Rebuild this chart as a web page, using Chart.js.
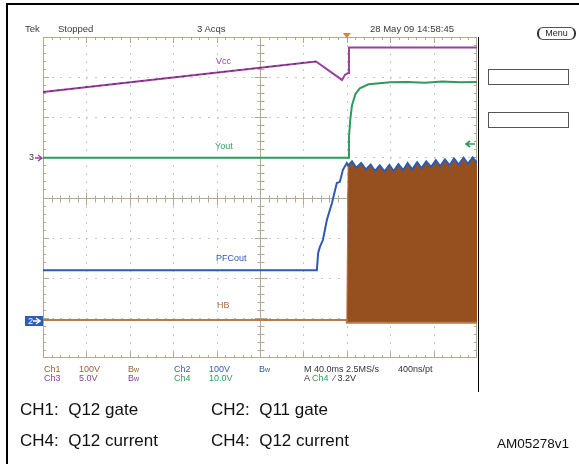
<!DOCTYPE html>
<html>
<head>
<meta charset="utf-8">
<script src="https://cdn.jsdelivr.net/npm/chart.js@4.4.0/dist/chart.umd.min.js"></script>
<style>
  html, body { margin: 0; padding: 0; background: #fff; }
  #wrap { position: relative; width: 579px; height: 464px; overflow: hidden; font-family: "Liberation Sans", Arial, sans-serif; }
  #wrap canvas { position: absolute; left: 0; top: 0; }
  .t { position: absolute; white-space: pre; line-height: 1; }
  .scope { font-size: 9.5px; color: #3a3a3a; }
  .ro { font-size: 9px; }
  .cap { font-size: 17px; color: #111; }
  .box { position: absolute; border: 1px solid #555; box-sizing: border-box; }
  svg.arr { position: absolute; }
</style>
</head>
<body>
<div id="wrap">
  <canvas id="scope"></canvas>

  <!-- outer frame -->
  <div style="position:absolute;left:6px;top:3px;width:573px;height:2px;background:#000"></div>
  <div style="position:absolute;left:6px;top:3px;width:2px;height:461px;background:#000"></div>
  <div style="position:absolute;left:478px;top:37px;width:1px;height:355px;background:#000"></div>

  <!-- status line -->
  <div class="t scope" style="left:25px;top:24px">Tek</div>
  <div class="t scope" style="left:58px;top:24px">Stopped</div>
  <div class="t scope" style="left:197px;top:24px">3 Acqs</div>
  <div class="t scope" style="left:370px;top:24px">28 May 09 14:58:45</div>

  <!-- side menu -->
  <div class="box" style="left:537px;top:27px;width:39px;height:13px;border-radius:6px;border-left:2px solid #333;border-right:2px solid #333;font-size:9px;text-align:center;line-height:11px;color:#222">Menu</div>
  <div class="box" style="left:488px;top:69px;width:81px;height:16px"></div>
  <div class="box" style="left:488px;top:112px;width:81px;height:16px"></div>

  <!-- trace labels -->
  <div class="t ro" style="left:216px;top:57px;color:#9c3fa0">Vcc</div>
  <div class="t ro" style="left:215px;top:142px;color:#2f9a5e">Yout</div>
  <div class="t ro" style="left:216px;top:254px;color:#2e5bb0">PFCout</div>
  <div class="t ro" style="left:217px;top:301px;color:#b0693a">HB</div>

  <!-- channel markers -->
  <div class="t" style="left:29px;top:153px;font-size:9px;color:#333">3</div>
  <svg class="arr" style="left:35px;top:154px" width="8" height="8"><path d="M0 4H6M3 1L7 4L3 7" stroke="#a040a0" stroke-width="1.4" fill="none"/></svg>
  <div class="t ro" style="left:25px;top:316px;width:18px;height:10px;background:#2d5fb0;color:#fff;line-height:10px;padding-left:3px;box-sizing:border-box">2</div>
  <svg class="arr" style="left:33px;top:317px" width="8" height="8"><path d="M0 4H6M3 1L7 4L3 7" stroke="#fff" stroke-width="1.4" fill="none"/></svg>
  <svg class="arr" style="left:465px;top:140px" width="10" height="8"><path d="M10 4H2M5 1L1 4L5 7" stroke="#2f9a5e" stroke-width="1.6" fill="none"/></svg>

  <!-- readouts -->
  <div class="t ro" style="left:44px;top:365px;color:#a0602a">Ch1</div>
  <div class="t ro" style="left:79px;top:365px;color:#a0602a">100V</div>
  <div class="t ro" style="left:128px;top:365px;color:#a0602a">B<span style="font-size:7px">w</span></div>
  <div class="t ro" style="left:174px;top:365px;color:#3060b0">Ch2</div>
  <div class="t ro" style="left:209px;top:365px;color:#3060b0">100V</div>
  <div class="t ro" style="left:259px;top:365px;color:#3060b0">B<span style="font-size:7px">w</span></div>
  <div class="t ro" style="left:304px;top:365px;color:#333">M 40.0ms 2.5MS/s</div>
  <div class="t ro" style="left:398px;top:365px;color:#333">400ns/pt</div>
  <div class="t ro" style="left:44px;top:374px;color:#9040a0">Ch3</div>
  <div class="t ro" style="left:79px;top:374px;color:#9040a0">5.0V</div>
  <div class="t ro" style="left:128px;top:374px;color:#9040a0">B<span style="font-size:7px">w</span></div>
  <div class="t ro" style="left:174px;top:374px;color:#30a060">Ch4</div>
  <div class="t ro" style="left:209px;top:374px;color:#30a060">10.0V</div>
  <div class="t ro" style="left:304px;top:374px;color:#333">A <span style="color:#30a060">Ch4</span>  &#8260; 3.2V</div>

  <!-- captions -->
  <div class="t cap" style="left:20px;top:401px">CH1:  Q12 gate</div>
  <div class="t cap" style="left:211px;top:401px">CH2:  Q11 gate</div>
  <div class="t cap" style="left:20px;top:432px">CH4:  Q12 current</div>
  <div class="t cap" style="left:211px;top:432px">CH4:  Q12 current</div>
  <div class="t" style="left:497px;top:437px;font-size:13.5px;color:#111">AM05278v1</div>
</div>

<script>
// screen is 10 x 8 divisions, values below are in divisions
const vccX = [0, 6.29, 6.89, 6.96, 7.03, 7.05, 10];
const vccY = [6.63, 7.39, 6.93, 7.06, 7.10, 7.74, 7.74];

const voutX = [0, 7.03, 7.05, 7.08, 7.12, 7.20, 7.30, 7.50, 8.0, 8.4, 8.8, 9.2, 9.6, 10];
const voutY = [4.99, 4.99, 5.50, 5.94, 6.30, 6.58, 6.72, 6.82, 6.87, 6.88, 6.86, 6.89, 6.87, 6.88];

// PFCout before the switching starts
const pfcX = [0, 6.31, 6.34, 6.38, 6.45, 6.54, 6.66, 6.77, 6.84, 6.91, 7.0];
const pfcY = [2.19, 2.19, 2.62, 2.77, 2.94, 3.44, 3.87, 4.36, 4.39, 4.69, 4.86];

// ripple on top of the HB burst (PFCout rides on it)
const rippleX = [7.03, 7.12, 7.22, 7.33, 7.44, 7.55, 7.65, 7.76, 7.87, 7.98, 8.08, 8.19, 8.30, 8.40, 8.51,
                 8.62, 8.72, 8.83, 8.94, 9.05, 9.15, 9.26, 9.37, 9.47, 9.58, 9.69, 9.79, 9.90, 10.0];
const rippleY = [4.80, 4.90, 4.74, 4.86, 4.70, 4.82, 4.66, 4.80, 4.65, 4.81, 4.66, 4.83, 4.68, 4.86, 4.70,
                 4.88, 4.73, 4.90, 4.76, 4.93, 4.78, 4.95, 4.80, 4.97, 4.82, 4.99, 4.84, 5.00, 4.86];

const hbX = [0, 7.0, 7.0, 10];
const hbY = [0.95, 0.95, 0.88, 0.88];
const hbFloor = 0.88;   // bottom of the switching burst
const triggerX = 7.0;   // trigger position marker

const pts = (xs, ys) => xs.map((x, i) => ({ x, y: ys[i] }));

// scope graticule: dotted divisions, ticked centre axes and frame
const graticule = {
  id: 'graticule',
  beforeDatasetsDraw(chart) {
    const { ctx, chartArea: a, scales: { x, y } } = chart;
    ctx.save();
    ctx.fillStyle = '#c8c8c8';
    for (let i = 1; i < 10; i++) {
      if (i === 5) continue;
      const px = Math.round(x.getPixelForValue(i));
      for (let j = 1; j < 40; j++) ctx.fillRect(px, Math.round(y.getPixelForValue(j * 0.2)), 1, 2);
    }
    for (let i = 1; i < 8; i++) {
      if (i === 4) continue;
      const py = Math.round(y.getPixelForValue(i));
      for (let j = 1; j < 50; j++) ctx.fillRect(Math.round(x.getPixelForValue(j * 0.2)), py, 2, 1);
    }

    ctx.strokeStyle = '#b3a98e';
    ctx.lineWidth = 1;
    ctx.strokeRect(a.left + 0.5, a.top + 0.5, a.width - 1, a.height - 1);
    const cx = Math.round(x.getPixelForValue(5)) + 0.5;
    const cy = Math.round(y.getPixelForValue(4)) + 0.5;
    ctx.beginPath();
    ctx.moveTo(a.left, cy); ctx.lineTo(a.right, cy);
    ctx.moveTo(cx, a.top); ctx.lineTo(cx, a.bottom);
    // ticks along x
    for (let j = 1; j < 50; j++) {
      const px = Math.round(x.getPixelForValue(j * 0.2)) + 0.5;
      const big = j % 5 === 0 ? 3 : 0;
      ctx.moveTo(px, cy - 3 - big); ctx.lineTo(px, cy + 4 + big);
      ctx.moveTo(px, a.top); ctx.lineTo(px, a.top + 3 + big);
      ctx.moveTo(px, a.bottom); ctx.lineTo(px, a.bottom - 3 - big);
    }
    // ticks along y
    for (let j = 1; j < 40; j++) {
      const py = Math.round(y.getPixelForValue(j * 0.2)) + 0.5;
      const big = j % 5 === 0 ? 3 : 0;
      ctx.moveTo(cx - 3 - big, py); ctx.lineTo(cx + 4 + big, py);
      ctx.moveTo(a.left, py); ctx.lineTo(a.left + 3 + big, py);
      ctx.moveTo(a.right, py); ctx.lineTo(a.right - 3 - big, py);
    }
    ctx.stroke();
    ctx.restore();
  },
  afterDatasetsDraw(chart) {
    const { ctx, chartArea: a, scales: { x } } = chart;
    const tx = x.getPixelForValue(triggerX);
    ctx.save();
    ctx.fillStyle = '#f07a2c';
    ctx.beginPath();
    ctx.moveTo(tx - 4, a.top - 4);
    ctx.lineTo(tx + 4, a.top - 4);
    ctx.lineTo(tx, a.top + 1);
    ctx.closePath();
    ctx.fill();
    ctx.restore();
  }
};

const line = (data, color, order, extra) => Object.assign({
  data, borderColor: color, borderWidth: 2, pointRadius: 0, tension: 0, fill: false, order
}, extra || {});

new Chart(document.getElementById('scope'), {
  type: 'line',
  data: {
    datasets: [
      // dark speckle seen on the slow Vcc ramp
      line(pts(vccX.slice(0, 2), vccY.slice(0, 2)), '#5a2464', 0, { borderWidth: 1, borderDash: [3, 4] }),
      line(pts(vccX, vccY), '#9c3fa0', 1),
      line(pts(voutX, voutY), '#2f9a5e', 2),
      line(pts(pfcX.concat(rippleX), pfcY.concat(rippleY)), '#2e5bb0', 3),
      line(pts(hbX, hbY), '#b87a4c', 4),
      line(pts([triggerX].concat(rippleX), [hbFloor].concat(rippleY)), '#c06a3a', 5, {
        borderWidth: 1,
        fill: { target: { value: hbFloor } },
        backgroundColor: '#96501f'
      })
    ]
  },
  options: {
    responsive: true,
    maintainAspectRatio: false,
    animation: false,
    layout: { padding: { left: 43, right: 102, top: 37, bottom: 106 } },
    scales: {
      x: { type: 'linear', min: 0, max: 10, display: false },
      y: { type: 'linear', min: 0, max: 8, display: false }
    },
    plugins: { legend: { display: false }, tooltip: { enabled: false } }
  },
  plugins: [graticule]
});
</script>
</body>
</html>
